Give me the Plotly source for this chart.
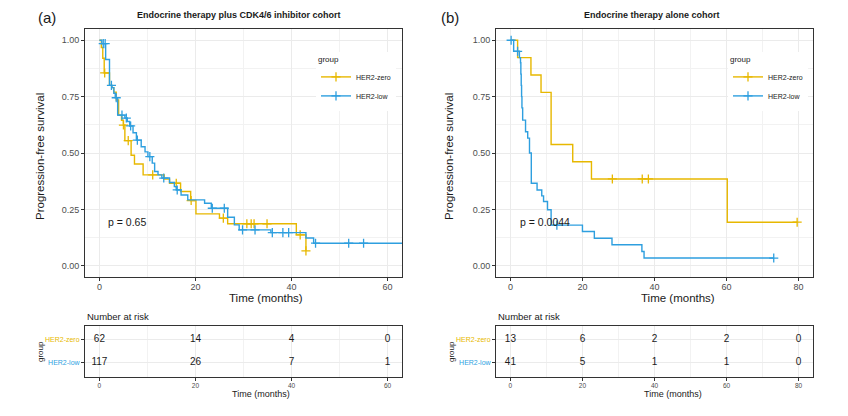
import plotly.graph_objects as go

YELLOW = "#E7B800"
BLUE = "#2E9FDF"
FONT = "Liberation Sans, Arial, sans-serif"
groups = ["HER2-zero", "HER2-low"]

# ---------------- Panel (a): Endocrine therapy plus CDK4/6 inhibitor ----------------
a_zero_t = [0, 0.4, 0.7, 1.0, 2.1, 2.6, 3.0, 3.5, 4.0, 4.6, 5.0, 5.3, 6.6, 7.3, 9.1, 13.5,
            14.6, 16.9, 19.0, 20.1, 25.0, 26.7, 41.0, 43.0]
a_zero_s = [1.0, 0.968, 0.92, 0.855, 0.80, 0.79, 0.77, 0.735, 0.668, 0.645, 0.624, 0.555, 0.49,
            0.451, 0.403, 0.384, 0.366, 0.329, 0.289, 0.23, 0.211, 0.186, 0.137, 0.066]
a_zero_cens = [1.1, 5.0, 6.0, 11.1, 16.0, 19.1, 25.8, 30.7, 31.6, 32.2, 34.9, 41.8, 43.0]

a_low_t = [0, 0.5, 1.3, 2.1, 2.6, 3.0, 3.3, 3.8, 5.3, 5.8, 6.3, 7.0, 7.7, 8.7, 9.5, 10.1, 11.0,
           11.5, 12.2, 13.0, 14.6, 15.6, 16.0, 17.0, 18.4, 21.9, 23.3, 26.7, 28.1, 29.1, 35.7,
           43.0, 44.6, 66.0]
a_low_s = [1.0, 0.985, 0.915, 0.80, 0.79, 0.765, 0.745, 0.668, 0.655, 0.64, 0.62, 0.59, 0.557,
           0.528, 0.505, 0.484, 0.455, 0.418, 0.403, 0.389, 0.369, 0.351, 0.336, 0.314, 0.292,
           0.277, 0.255, 0.215, 0.181, 0.159, 0.147, 0.123, 0.10, 0.10]
a_low_cens = [0.8, 1.2, 2.5, 3.5, 4.7, 5.6, 6.5, 7.9, 10.5, 13.4, 16.2, 23.5, 26.0, 29.8, 32.4,
              36.0, 38.2, 39.4, 45.0, 51.9, 55.0]

a_pvalue = "p = 0.65"
a_risk_times = [0, 20, 40, 60]
a_risk_zero = [62, 14, 4, 0]
a_risk_low = [117, 26, 7, 1]
a_ticks = [0, 20, 40, 60]

# ---------------- Panel (b): Endocrine therapy alone ----------------
b_zero_t = [0, 2.0, 5.7, 8.5, 11.3, 17.3, 22.5, 60.2, 79.6]
b_zero_s = [1.0, 0.923, 0.846, 0.769, 0.538, 0.461, 0.385, 0.193, 0.193]
b_zero_cens = [28.3, 36.6, 38.3, 79.6]

b_low_t = [0, 0.9, 2.5, 2.8, 2.9, 3.0, 3.1, 3.2, 3.4, 4.2, 4.8, 5.3, 5.8, 7.4, 8.7, 9.2, 10.3,
           11.3, 20.0, 23.3, 28.2, 36.5, 37.1, 73.1]
b_low_s = [1.0, 0.951, 0.923, 0.90, 0.85, 0.80, 0.75, 0.70, 0.646, 0.594, 0.566, 0.50, 0.366,
           0.336, 0.31, 0.285, 0.248, 0.18, 0.152, 0.122, 0.093, 0.063, 0.034, 0.034]
b_low_cens = [0.2, 2.0, 12.9, 73.1]

b_pvalue = "p = 0.0044"
b_risk_times = [0, 20, 40, 60, 80]
b_risk_zero = [13, 6, 2, 2, 0]
b_risk_low = [41, 5, 1, 1, 0]
b_ticks = [0, 20, 40, 60, 80]

# The page body has an 8px margin, so the figure is 840x408 placed at (8, 8).
W, H, OFF = 840, 408, 8


def surv_at(t, times, surv):
    val = surv[0]
    for ti, si in zip(times, surv):
        if ti <= t:
            val = si
    return val


def px_x(x):
    return (x - OFF) / W


def px_y(y):
    return 1 - (y - OFF) / H


fig = go.Figure()


def add_km(xa, ya, zt, zs, zc, lt, ls, lc, legend):
    for name, t, s, c, col in [("HER2-zero", zt, zs, zc, YELLOW), ("HER2-low", lt, ls, lc, BLUE)]:
        fig.add_trace(go.Scatter(x=t, y=s, mode="lines", line=dict(color=col, width=1.4, shape="hv"),
                                 xaxis=xa, yaxis=ya, showlegend=False, hoverinfo="skip"))
        fig.add_trace(go.Scatter(x=c, y=[surv_at(v, t, s) for v in c], mode="markers",
                                 marker=dict(symbol="cross-thin", size=6.5, color=col,
                                             line=dict(width=1.3, color=col)),
                                 xaxis=xa, yaxis=ya, showlegend=False, hoverinfo="skip"))
    for name, col in [("HER2-zero", YELLOW), ("HER2-low", BLUE)]:
        fig.add_trace(go.Scatter(x=[None], y=[None], mode="lines+markers", name=name,
                                 line=dict(color=col, width=1.4),
                                 marker=dict(symbol="cross-thin", size=6.5, color=col,
                                             line=dict(width=1.3, color=col)),
                                 xaxis=xa, yaxis=ya, legend=legend))


add_km("x", "y", a_zero_t, a_zero_s, a_zero_cens, a_low_t, a_low_s, a_low_cens, "legend")
add_km("x2", "y2", b_zero_t, b_zero_s, b_zero_cens, b_low_t, b_low_s, b_low_cens, "legend2")


def add_risk(xa, ya, times, zero, low):
    fig.add_trace(go.Scatter(x=times, y=["HER2-zero"] * len(times), text=[str(v) for v in zero],
                             mode="text", textfont=dict(size=10, color="#1a1a1a", family=FONT),
                             xaxis=xa, yaxis=ya, showlegend=False, hoverinfo="skip"))
    fig.add_trace(go.Scatter(x=times, y=["HER2-low"] * len(times), text=[str(v) for v in low],
                             mode="text", textfont=dict(size=10, color="#1a1a1a", family=FONT),
                             xaxis=xa, yaxis=ya, showlegend=False, hoverinfo="skip"))


add_risk("x3", "y3", a_risk_times, a_risk_zero, a_risk_low)
add_risk("x4", "y4", b_risk_times, b_risk_zero, b_risk_low)

GRID = "#EBEBEB"
BORDER = "#333333"
TICKC = "#4D4D4D"

km_ydom = [px_y(277), px_y(29)]
tb_ydom = [px_y(376.7), px_y(325.7)]
left_dom = [px_x(85), px_x(402)]
right_dom = [px_x(496), px_x(813)]


def xax(dom, rng, ticks, size, anchor, standoff):
    return dict(domain=dom, range=rng, tickvals=ticks, ticktext=[str(v) for v in ticks],
                showgrid=True, gridcolor=GRID, gridwidth=1,
                minor=dict(dtick=10, tick0=0, showgrid=True, gridcolor="#F2F2F2", gridwidth=0.6),
                showline=True, mirror=True, linecolor=BORDER, linewidth=1,
                ticks="outside", ticklen=3, tickcolor=BORDER, ticklabelstandoff=standoff,
                tickfont=dict(size=size, color=TICKC, family=FONT), zeroline=False, anchor=anchor,
                fixedrange=True)


def ykm(anchor):
    return dict(domain=km_ydom, range=[-0.05, 1.05], tickvals=[0, 0.25, 0.5, 0.75, 1.0],
                ticktext=["0.00", "0.25", "0.50", "0.75", "1.00"],
                showgrid=True, gridcolor=GRID, gridwidth=1,
                minor=dict(dtick=0.125, tick0=0, showgrid=True, gridcolor="#F2F2F2", gridwidth=0.6),
                showline=True, mirror=True, linecolor=BORDER, linewidth=1,
                ticks="outside", ticklen=3, tickcolor=BORDER,
                tickfont=dict(size=9, color=TICKC, family=FONT), zeroline=False, anchor=anchor,
                fixedrange=True)


def ytab(anchor):
    return dict(domain=tb_ydom, type="category", categoryorder="array",
                categoryarray=["HER2-low", "HER2-zero"], range=[-0.6, 1.6],
                tickvals=["HER2-low", "HER2-zero"],
                ticktext=[f"<span style='color:{BLUE}'>HER2-low</span>",
                          f"<span style='color:{YELLOW}'>HER2-zero</span>"],
                showgrid=True, gridcolor=GRID, showline=True, mirror=True, linecolor=BORDER,
                linewidth=1, ticks="outside", ticklen=3, tickcolor=BORDER,
                tickfont=dict(size=7, family=FONT), zeroline=False, anchor=anchor, fixedrange=True)


legend_common = dict(bgcolor="white", borderwidth=0, font=dict(size=7, family=FONT, color="#1a1a1a"),
                     title=dict(text="group", font=dict(size=8, family=FONT, color="#1a1a1a")),
                     xanchor="left", yanchor="top", itemwidth=30, tracegroupgap=0)

fig.update_layout(
    width=W, height=H, margin=dict(l=0, r=0, t=0, b=0),
    paper_bgcolor="white", plot_bgcolor="white",
    font=dict(family=FONT),
    xaxis=xax(left_dom, [-3, 63], a_ticks, 9, "y", -2),
    yaxis=ykm("x"),
    xaxis2=xax(right_dom, [-4, 84], b_ticks, 9, "y2", -2),
    yaxis2=ykm("x2"),
    xaxis3=xax(left_dom, [-3, 63], a_ticks, 6.5, "y3", -1),
    yaxis3=ytab("x3"),
    xaxis4=xax(right_dom, [-4, 84], b_ticks, 6.5, "y4", -1),
    yaxis4=ytab("x4"),
    legend=dict(x=px_x(316), y=px_y(52), **legend_common),
    legend2=dict(x=px_x(728), y=px_y(52), **legend_common),
)

ann = []


def text(x, y, s, size, bold=False, angle=0, xanchor="center", color="#1a1a1a"):
    ann.append(dict(x=px_x(x), y=px_y(y), xref="paper", yref="paper", text=f"<b>{s}</b>" if bold else s,
                    showarrow=False, textangle=angle, xanchor=xanchor, yanchor="middle",
                    font=dict(size=size, family=FONT, color=color)))


text(47, 17.5, "(a)", 15)
text(450, 17.5, "(b)", 15)
text(239, 15, "Endocrine therapy plus CDK4/6 inhibitor cohort", 9, bold=True)
text(652, 15, "Endocrine therapy alone cohort", 9, bold=True)
text(40, 157, "Progression-free survival", 11.5, angle=-90)
text(449, 157, "Progression-free survival", 11.5, angle=-90)
text(266, 298, "Time (months)", 11.5)
text(678, 298, "Time (months)", 11.5)
text(85, 316.5, "Number at risk", 9.5, xanchor="left")
text(496, 316.5, "Number at risk", 9.5, xanchor="left")
text(40, 352, "group", 8, angle=-90)
text(451, 352, "group", 8, angle=-90)
text(261, 394, "Time (months)", 9)
text(673, 394, "Time (months)", 9)

ann.append(dict(x=1.45, y=0.196, xref="x", yref="y", text=a_pvalue, showarrow=False, xanchor="left",
                yanchor="middle", font=dict(size=10.5, family=FONT, color="#1a1a1a")))
ann.append(dict(x=2.0, y=0.196, xref="x2", yref="y2", text=b_pvalue, showarrow=False, xanchor="left",
                yanchor="middle", font=dict(size=10.5, family=FONT, color="#1a1a1a")))

fig.update_layout(annotations=ann)
fig.write_html("out.html")
